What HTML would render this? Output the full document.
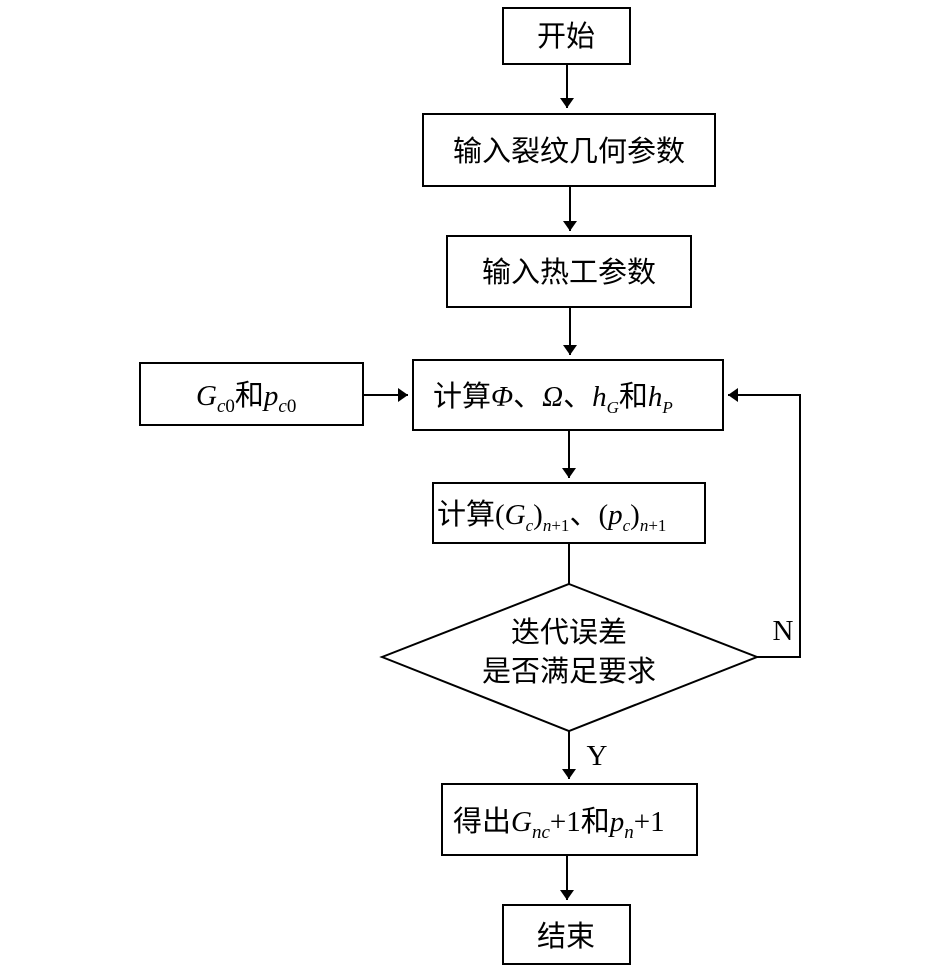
<!DOCTYPE html>
<html><head><meta charset="utf-8"><style>
body{margin:0;background:#fff;width:945px;height:971px;overflow:hidden}
text{font-family:"Liberation Serif","Noto Sans CJK SC",serif;font-size:29px;fill:#000}
.i{font-style:italic}
</style></head><body>
<svg width="945" height="971" xmlns="http://www.w3.org/2000/svg">
<defs><marker id="a" markerWidth="10" markerHeight="14" refX="10" refY="7" orient="auto" markerUnits="userSpaceOnUse"><path d="M0,0 L10,7 L0,14 z" fill="#000"/></marker></defs>
<g fill="none" stroke="#000" stroke-width="2">
<rect x="503" y="8" width="127" height="56"/>
<rect x="423" y="114" width="292" height="72"/>
<rect x="447" y="236" width="244" height="71"/>
<rect x="140" y="363" width="223" height="62"/>
<rect x="413" y="360" width="310" height="70"/>
<rect x="433" y="483" width="272" height="60"/>
<polygon points="569,584 757,657 569,731 382,657"/>
<rect x="442" y="784" width="255" height="71"/>
<rect x="503" y="905" width="127" height="59"/>
<line x1="567" y1="64" x2="567" y2="108" marker-end="url(#a)"/>
<line x1="570" y1="186" x2="570" y2="231" marker-end="url(#a)"/>
<line x1="570" y1="307" x2="570" y2="355" marker-end="url(#a)"/>
<line x1="363" y1="395" x2="408" y2="395" marker-end="url(#a)"/>
<line x1="569" y1="430" x2="569" y2="478" marker-end="url(#a)"/>
<line x1="569" y1="543" x2="569" y2="584"/>
<polyline points="757,657 800,657 800,395 728,395" marker-end="url(#a)"/>
<line x1="569" y1="731" x2="569" y2="779" marker-end="url(#a)"/>
<line x1="567" y1="855" x2="567" y2="900" marker-end="url(#a)"/>
</g>
<text x="566" y="46" text-anchor="middle">开始</text>
<text x="569" y="161" text-anchor="middle">输入裂纹几何参数</text>
<text x="569" y="282" text-anchor="middle">输入热工参数</text>
<text x="196" y="405"><tspan class="i">G</tspan><tspan class="i" font-size="19" dy="7">c</tspan><tspan font-size="19">0</tspan><tspan dy="-7">和</tspan><tspan class="i">p</tspan><tspan class="i" font-size="19" dy="7">c</tspan><tspan font-size="19">0</tspan></text>
<text x="433" y="406">计算<tspan class="i">Φ</tspan>、<tspan class="i">Ω</tspan>、<tspan class="i">h</tspan><tspan class="i" font-size="17" dy="7">G</tspan><tspan dy="-7">和</tspan><tspan class="i">h</tspan><tspan class="i" font-size="17" dy="7">P</tspan></text>
<text x="437" y="524">计算(<tspan class="i">G</tspan><tspan class="i" font-size="17" dy="7">c</tspan><tspan dy="-7">)</tspan><tspan class="i" font-size="17" dy="7">n</tspan><tspan font-size="17">+1</tspan><tspan dy="-7">、(</tspan><tspan class="i">p</tspan><tspan class="i" font-size="17" dy="7">c</tspan><tspan dy="-7">)</tspan><tspan class="i" font-size="17" dy="7">n</tspan><tspan font-size="17">+1</tspan></text>
<text x="569" y="642" text-anchor="middle">迭代误差</text>
<text x="569" y="681" text-anchor="middle">是否满足要求</text>
<text x="783" y="640" text-anchor="middle">N</text>
<text x="597" y="765" text-anchor="middle">Y</text>
<text x="453" y="831">得出<tspan class="i">G</tspan><tspan class="i" font-size="19" dy="7">nc</tspan><tspan dy="-7">+1和</tspan><tspan class="i">p</tspan><tspan class="i" font-size="19" dy="7">n</tspan><tspan dy="-7">+1</tspan></text>
<text x="566" y="946" text-anchor="middle">结束</text>
</svg>
</body></html>
